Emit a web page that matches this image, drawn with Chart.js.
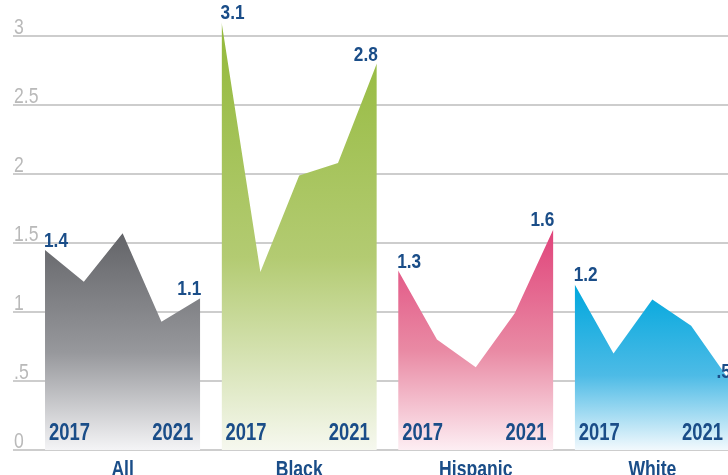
<!DOCTYPE html>
<html>
<head>
<meta charset="utf-8">
<script src="https://cdn.jsdelivr.net/npm/chart.js@4/dist/chart.umd.min.js"></script>
<style>
  html, body { margin: 0; padding: 0; background: #ffffff; overflow: hidden; }
  canvas { display: block; }
</style>
</head>
<body>
<canvas id="c" width="728" height="475"></canvas>
<script>
// ---- data ----
const groups = ["All", "Black", "Hispanic", "White"];
const years = ["2017", "2018", "2019", "2020", "2021"];
const allValues = [1.45, 1.22, 1.57, 0.93, 1.1];
const blackValues = [3.1, 1.29, 1.99, 2.08, 2.8];
const hispanicValues = [1.3, 0.8, 0.6, 0.99, 1.6];
const whiteValues = [1.2, 0.7, 1.09, 0.9, 0.5];
const firstLabels = ["1.4", "3.1", "1.3", "1.2"];
const lastLabels = ["1.1", "2.8", "1.6", ".5"];
const yTicks = [0, 0.5, 1, 1.5, 2, 2.5, 3];
const yTickLabels = ["0", ".5", "1", "1.5", "2", "2.5", "3"];

const seriesValues = [allValues, blackValues, hispanicValues, whiteValues];
const palettes = [
  ["#636468", "#97989c", "#f4f4f6"],
  ["#93b93b", "#b3cb72", "#f6f8ef"],
  ["#e0437a", "#e98aa4", "#fdeef3"],
  ["#00a7dd", "#4dbbe6", "#f2f9fd"]
];

const GROUP_STRIDE = 4.55;
const FONT = "'Liberation Sans', 'Arimo', 'DejaVu Sans', sans-serif";
const BLUE = "#1a4d88";

function xFor(g, i) { return g * GROUP_STRIDE + i; }

function drawCondensed(c, text, x, y, align, sx) {
  c.save();
  c.translate(x, y);
  c.scale(sx, 1);
  c.textAlign = align;
  c.fillText(text, 0, 0);
  c.restore();
}

const datasets = seriesValues.map((vals, g) => ({
  label: groups[g],
  data: vals.map((v, i) => ({ x: xFor(g, i), y: v })),
  fill: 'origin',
  borderWidth: 0,
  pointRadius: 0,
  tension: 0,
  backgroundColor: (ctx) => {
    const chart = ctx.chart;
    const area = chart.chartArea;
    const pal = palettes[g];
    if (!area) return pal[0];
    const ys = chart.scales.y;
    const top = ys.getPixelForValue(Math.max(...vals));
    const bottom = ys.getPixelForValue(0);
    const grad = chart.ctx.createLinearGradient(0, top, 0, bottom);
    grad.addColorStop(0, pal[0]);
    grad.addColorStop(0.55, pal[1]);
    grad.addColorStop(1, pal[2]);
    return grad;
  }
}));

const labelPlugin = {
  id: 'labels',
  afterDraw(chart) {
    const c = chart.ctx;
    const xs = chart.scales.x, ys = chart.scales.y;
    c.save();
    c.textBaseline = 'alphabetic';
    // y tick labels (from the y scale's ticks)
    c.fillStyle = '#b9b9b9';
    c.font = "22px " + FONT;
    ys.ticks.forEach((t) => {
      const idx = yTicks.indexOf(t.value);
      if (idx < 0) return;
      drawCondensed(c, yTickLabels[idx], chart.chartArea.left + 1, ys.getPixelForValue(t.value) - 2, 'left', 0.8);
    });
    seriesValues.forEach((vals, g) => {
      const x0 = xs.getPixelForValue(xFor(g, 0));
      const x1 = xs.getPixelForValue(xFor(g, vals.length - 1));
      const y0 = ys.getPixelForValue(vals[0]);
      const y1 = ys.getPixelForValue(vals[vals.length - 1]);
      const base = ys.getPixelForValue(0);
      c.fillStyle = BLUE;
      // value labels
      c.font = "bold 21px " + FONT;
      drawCondensed(c, firstLabels[g], x0 - 1, y0 - 3, 'left', 0.82);
      drawCondensed(c, lastLabels[g], x1 + 1, y1 - 3, 'right', 0.82);
      // year labels
      c.font = "bold 23px " + FONT;
      drawCondensed(c, years[0], x0 + 4, base - 10, 'left', 0.8);
      drawCondensed(c, years[years.length - 1], x1 - 7, base - 10, 'right', 0.8);
      // group label
      c.font = "bold 22px " + FONT;
      drawCondensed(c, groups[g], (x0 + x1) / 2, base + 26, 'center', 0.8);
    });
    c.restore();
  }
};

new Chart(document.getElementById('c'), {
  type: 'line',
  data: { datasets },
  options: {
    responsive: false,
    animation: false,
    events: [],
    layout: { padding: { left: 13, right: 0, top: 0, bottom: 25 } },
    plugins: { legend: { display: false }, tooltip: { enabled: false } },
    scales: {
      x: {
        type: 'linear',
        display: false,
        min: -0.825,
        max: 17.6
      },
      y: {
        type: 'linear',
        min: 0,
        max: 3.261,
        border: { display: false },
        grid: { color: '#cdcdcd', lineWidth: 2, drawTicks: false },
        afterBuildTicks: (axis) => { axis.ticks = yTicks.map(v => ({ value: v })); },
        ticks: { display: false }
      }
    }
  },
  plugins: [labelPlugin]
});
</script>
</body>
</html>
